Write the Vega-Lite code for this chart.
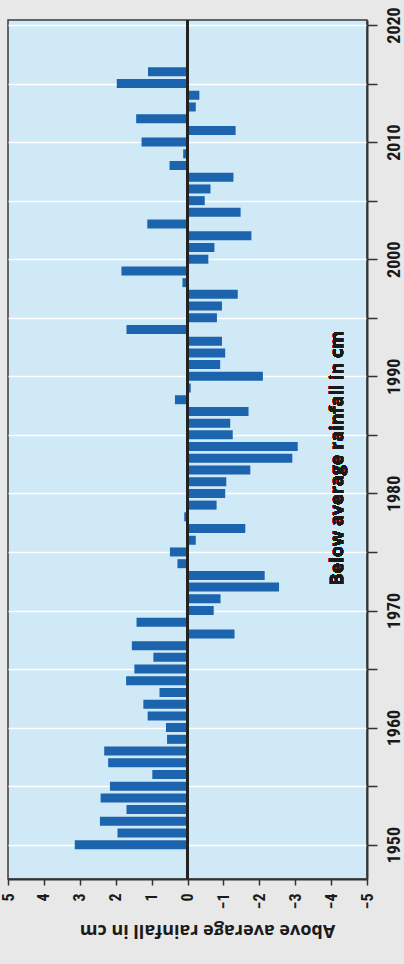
{
  "$schema": "https://vega.github.io/schema/vega-lite/v6.json",
  "width": 359,
  "height": 859,
  "autosize": {"type": "none"},
  "padding": {"left": 8, "top": 20, "right": 37, "bottom": 85},
  "background": "#e8e8e8",
  "config": {
    "view": {"fill": "#cfe9f6", "stroke": "#3a3a3a", "strokeWidth": 1.5},
    "font": "'Liberation Sans Narrow', 'Roboto Condensed', 'DejaVu Sans Condensed', Roboto, sans-serif",
    "axis": {"labelOverlap": false}
  },
  "data": {
    "values": [
      {"year": 1950, "value": 3.14}, {"year": 1951, "value": 1.95}, {"year": 1952, "value": 2.44},
      {"year": 1953, "value": 1.7}, {"year": 1954, "value": 2.42}, {"year": 1955, "value": 2.16},
      {"year": 1956, "value": 0.98}, {"year": 1957, "value": 2.21}, {"year": 1958, "value": 2.32},
      {"year": 1959, "value": 0.57}, {"year": 1960, "value": 0.6}, {"year": 1961, "value": 1.11},
      {"year": 1962, "value": 1.23}, {"year": 1963, "value": 0.78}, {"year": 1964, "value": 1.71},
      {"year": 1965, "value": 1.48}, {"year": 1966, "value": 0.95}, {"year": 1967, "value": 1.55},
      {"year": 1968, "value": -1.31}, {"year": 1969, "value": 1.42}, {"year": 1970, "value": -0.73},
      {"year": 1971, "value": -0.92}, {"year": 1972, "value": -2.55}, {"year": 1973, "value": -2.15},
      {"year": 1974, "value": 0.28}, {"year": 1975, "value": 0.49}, {"year": 1976, "value": -0.23},
      {"year": 1977, "value": -1.61}, {"year": 1978, "value": 0.09}, {"year": 1979, "value": -0.81},
      {"year": 1980, "value": -1.05}, {"year": 1981, "value": -1.08}, {"year": 1982, "value": -1.75},
      {"year": 1983, "value": -2.92}, {"year": 1984, "value": -3.07}, {"year": 1985, "value": -1.26},
      {"year": 1986, "value": -1.19}, {"year": 1987, "value": -1.7}, {"year": 1988, "value": 0.35},
      {"year": 1989, "value": -0.09}, {"year": 1990, "value": -2.1}, {"year": 1991, "value": -0.91},
      {"year": 1992, "value": -1.05}, {"year": 1993, "value": -0.96}, {"year": 1994, "value": 1.7},
      {"year": 1995, "value": -0.82}, {"year": 1996, "value": -0.96}, {"year": 1997, "value": -1.4},
      {"year": 1998, "value": 0.14}, {"year": 1999, "value": 1.84}, {"year": 2000, "value": -0.58},
      {"year": 2001, "value": -0.75}, {"year": 2002, "value": -1.78}, {"year": 2003, "value": 1.12},
      {"year": 2004, "value": -1.48}, {"year": 2005, "value": -0.48}, {"year": 2006, "value": -0.64},
      {"year": 2007, "value": -1.28}, {"year": 2008, "value": 0.5}, {"year": 2009, "value": 0.12},
      {"year": 2010, "value": 1.28}, {"year": 2011, "value": -1.34}, {"year": 2012, "value": 1.43},
      {"year": 2013, "value": -0.23}, {"year": 2014, "value": -0.33}, {"year": 2015, "value": 1.97},
      {"year": 2016, "value": 1.1}
    ]
  },
  "layer": [
    {
      "mark": {"type": "bar", "orient": "horizontal", "height": 9, "color": "#1d64ae"},
      "encoding": {
        "y": {
          "field": "year",
          "type": "quantitative",
          "scale": {"domain": [1947.5, 2020], "nice": false, "zero": false},
          "axis": {
            "orient": "right",
            "title": null,
            "values": [1950, 1955, 1960, 1965, 1970, 1975, 1980, 1985, 1990, 1995, 2000, 2005, 2010, 2015, 2020],
            "format": "d",
            "labelExpr": "datum.value % 10 == 0 ? datum.label : ''",
            "labelAngle": -90,
            "labelAlign": "center",
            "labelBaseline": "top",
            "labelFontSize": 18,
            "labelFontWeight": "bold",
            "labelColor": "#1a1a1a",
            "labelPadding": 8,
            "labelOverlap": false,
            "labelBound": false,
            "tickSize": 10,
            "tickColor": "#333",
            "tickWidth": 1.5,
            "domainColor": "#333",
            "domainWidth": 2,
            "grid": true,
            "gridColor": "#ffffff",
            "gridWidth": 1.5,
            "gridOpacity": 1
          }
        },
        "x": {
          "field": "value",
          "type": "quantitative",
          "scale": {"domain": [5, -5], "nice": false, "zero": false},
          "axis": {
            "orient": "bottom",
            "title": "Above average rainfall in cm",
            "titleFont": "Open Sans",
            "titleAngle": 180,
            "titleBaseline": "bottom",
            "titleFontSize": 18,
            "titleFontWeight": "bold",
            "titleColor": "#1a1a1a",
            "titlePadding": 12,
            "titleX": 199,
            "values": [5, 4, 3, 2, 1, 0, -1, -2, -3, -4, -5],
            "tickCount": 11,
            "labelAngle": -90,
            "labelFontSize": 16,
            "labelFontWeight": "bold",
            "labelColor": "#1a1a1a",
            "labelPadding": 8,
            "labelOverlap": false,
            "labelFlush": false,
            "labelBound": false,
            "tickSize": 6,
            "tickColor": "#333",
            "tickWidth": 1.5,
            "domainColor": "#333",
            "domainWidth": 2,
            "grid": false
          }
        },
        "x2": {"datum": 0}
      }
    },
    {
      "mark": {"type": "rule", "color": "#222", "strokeWidth": 2},
      "encoding": {"x": {"datum": 0}}
    },
    {
      "mark": {"type": "text", "angle": -90, "font": "Open Sans", "fontSize": 18, "fontWeight": "bold", "color": "#1a1a1a"},
      "encoding": {
        "x": {"datum": -4.2},
        "y": {"datum": 1983},
        "text": {"value": "Below average rainfall in cm"}
      }
    }
  ]
}
